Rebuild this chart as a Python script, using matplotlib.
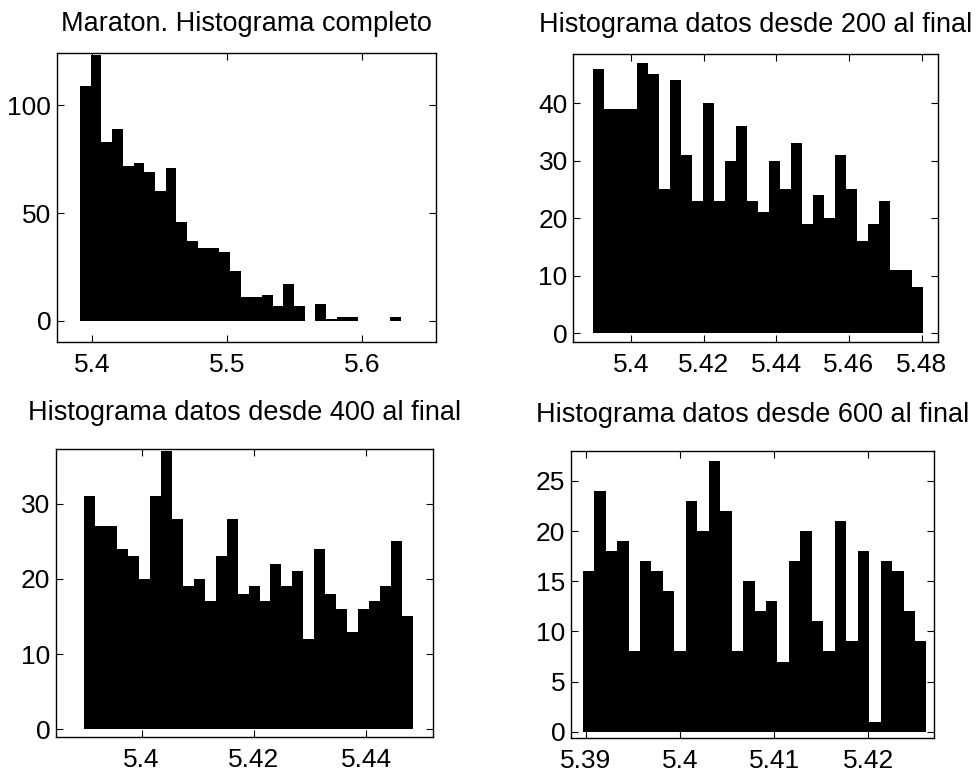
import numpy as np
import matplotlib
matplotlib.use("Agg")
import matplotlib.pyplot as plt
from matplotlib.ticker import FormatStrFormatter

plt.rcParams['font.family'] = ['Liberation Sans', 'DejaVu Sans']

# bin counts (30 bins each) and the value range covered by the bins
titles = ["Maraton. Histograma completo",
          "Histograma datos desde 200 al final",
          "Histograma datos desde 400 al final",
          "Histograma datos desde 600 al final"]

counts_all = [109, 123, 83, 89, 72, 73, 69, 60, 71, 46, 37, 34, 34, 32, 23,
              11, 11, 12, 7, 17, 7, 0, 8, 1, 2, 2, 0, 0, 0, 2]
counts_200 = [46, 39, 39, 39, 47, 45, 25, 44, 31, 23, 40, 23, 30, 36, 23,
              21, 30, 25, 33, 19, 24, 20, 31, 25, 16, 19, 23, 11, 11, 8]
counts_400 = [31, 27, 27, 24, 23, 20, 31, 37, 28, 19, 20, 17, 23, 28, 18,
              19, 17, 22, 19, 21, 12, 24, 18, 16, 13, 16, 17, 19, 25, 15]
counts_600 = [16, 24, 18, 19, 8, 17, 16, 14, 8, 23, 20, 27, 22, 8, 15,
              12, 13, 7, 17, 20, 11, 8, 21, 9, 18, 1, 17, 16, 12, 9]

ranges = [(5.3909, 5.629), (5.3894, 5.4803), (5.3898, 5.4483), (5.38965, 5.4262)]

xticks = [[5.4, 5.5, 5.6],
          [5.4, 5.42, 5.44, 5.46, 5.48],
          [5.4, 5.42, 5.44],
          [5.39, 5.40, 5.41, 5.42]]
yticks = [[0, 50, 100],
          [0, 10, 20, 30, 40],
          [0, 10, 20, 30],
          [0, 5, 10, 15, 20, 25]]
xlims = [(5.3736, 5.655), (5.3841, 5.4846), (5.3847, 5.4519), (5.3884, 5.4270)]
ylims = [(-9.6, 124), (-1.45, 48.5), (-0.97, 37.2), (-0.66, 28.0)]

positions = [[0.0579, 0.5597, 0.3875, 0.3716],
             [0.5856, 0.5597, 0.3728, 0.3704],
             [0.0569, 0.0506, 0.3854, 0.3704],
             [0.5832, 0.0485, 0.3708, 0.3706]]
title_pads = [16, 16, 21, 21]

fig = plt.figure(figsize=(9.79, 7.76), dpi=100)

for title, counts, (lo, hi), xt, yt, xl, yl, pos, tp in zip(
        titles, [counts_all, counts_200, counts_400, counts_600],
        ranges, xticks, yticks, xlims, ylims, positions, title_pads):
    ax = fig.add_axes(pos)
    edges = np.linspace(lo, hi, len(counts) + 1)
    ax.stairs(counts, edges, fill=True, color='black', linewidth=0)
    ax.set_xlim(*xl)
    ax.set_ylim(*yl)
    ax.set_xticks(xt)
    ax.set_yticks(yt)
    ax.xaxis.set_major_formatter(FormatStrFormatter('%g'))
    ax.tick_params(direction='in', top=True, right=True, length=5,
                   width=0.8, labelsize=19)
    ax.tick_params(axis='x', pad=8)
    ax.tick_params(axis='y', pad=4)
    for s in ax.spines.values():
        s.set_linewidth(1.0)
    ax.set_title(title, fontsize=19.5, pad=tp)

fig.savefig("out.png", dpi=100)
